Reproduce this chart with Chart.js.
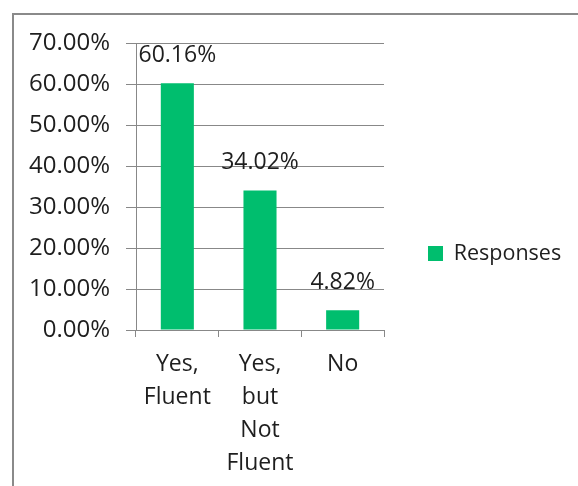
<!DOCTYPE html>
<html>
<head>
<meta charset="utf-8">
<script src="https://cdn.jsdelivr.net/npm/chart.js@4"></script>
<style>
  html, body { margin: 0; padding: 0; background: #fff; overflow: hidden; }
  #wrap { position: relative; width: 578px; height: 486px; overflow: hidden; }
  #frame { position: absolute; left: 12px; top: 13px; width: 700px; height: 600px; border: 2px solid #8a8a8a; box-sizing: border-box; }
  canvas { position: absolute; left: 0; top: 0; }
</style>
</head>
<body>
<div id="wrap">
  <div id="frame"></div>
  <canvas id="c" width="578" height="486"></canvas>
</div>
<script>
const categories = [["Yes,", "Fluent"], ["Yes,", "but", "Not", "Fluent"], ["No"]];
const responses = [60.16, 34.02, 4.82];
const seriesName = "Responses";
const yMax = 70;
const yStep = 10;

const FONT = "'Open Sans', sans-serif";
const TEXT = "#1e1e1e";
const GREEN = "#00BE6E";
const GRID = "#888888";

const dataLabels = {
  id: 'dataLabels',
  afterDatasetsDraw(chart) {
    const ctx = chart.ctx;
    const meta = chart.getDatasetMeta(0);
    ctx.save();
    ctx.font = "23px " + FONT;
    ctx.fillStyle = TEXT;
    ctx.textAlign = 'center';
    ctx.textBaseline = 'middle';
    meta.data.forEach((bar, i) => {
      const v = chart.data.datasets[0].data[i];
      ctx.fillText(v.toFixed(2) + '%', bar.x, bar.y - 28);
    });
    ctx.restore();
  }
};

// move the right-hand legend box: a bit higher, and wide enough to the canvas edge
const legendShift = {
  id: 'legendShift',
  afterLayout(chart) {
    const lg = chart.legend;
    if (!lg) return;
    lg.top -= 11;
    lg.bottom -= 11;
    lg.right = chart.width;
    lg.width = lg.right - lg.left;
  }
};

new Chart(document.getElementById('c'), {
  type: 'bar',
  data: {
    labels: categories,
    datasets: [{
      label: seriesName,
      data: responses,
      backgroundColor: GREEN,
      borderWidth: 0,
      barPercentage: 0.4,
      categoryPercentage: 1.0
    }]
  },
  options: {
    responsive: false,
    animation: false,
    devicePixelRatio: 1,
    layout: { padding: { top: 43, right: 66, bottom: 0, left: 0 } },
    plugins: {
      legend: {
        position: 'right',
        labels: {
          boxWidth: 15,
          boxHeight: 15,
          padding: 44,
          color: TEXT,
          font: { family: FONT, size: 21.5 }
        }
      },
      tooltip: { enabled: false }
    },
    scales: {
      x: {
        grid: { display: true, drawOnChartArea: false, color: GRID, tickLength: 7, offset: true },
        border: { color: GRID, width: 1 },
        ticks: { color: TEXT, padding: 11, maxRotation: 0, autoSkip: false, font: { family: FONT, size: 23, lineHeight: 1.44 } },
        afterFit: s => { s.height = 156; }
      },
      y: {
        min: 0,
        max: yMax,
        grid: { color: GRID, tickLength: 10 },
        border: { color: GRID, width: 1 },
        ticks: {
          stepSize: yStep,
          color: TEXT,
          padding: 16,
          font: { family: FONT, size: 24 },
          callback: v => v.toFixed(2) + '%'
        },
        afterFit: s => { s.width = 136; }
      }
    }
  },
  plugins: [dataLabels, legendShift]
});
</script>
</body>
</html>
